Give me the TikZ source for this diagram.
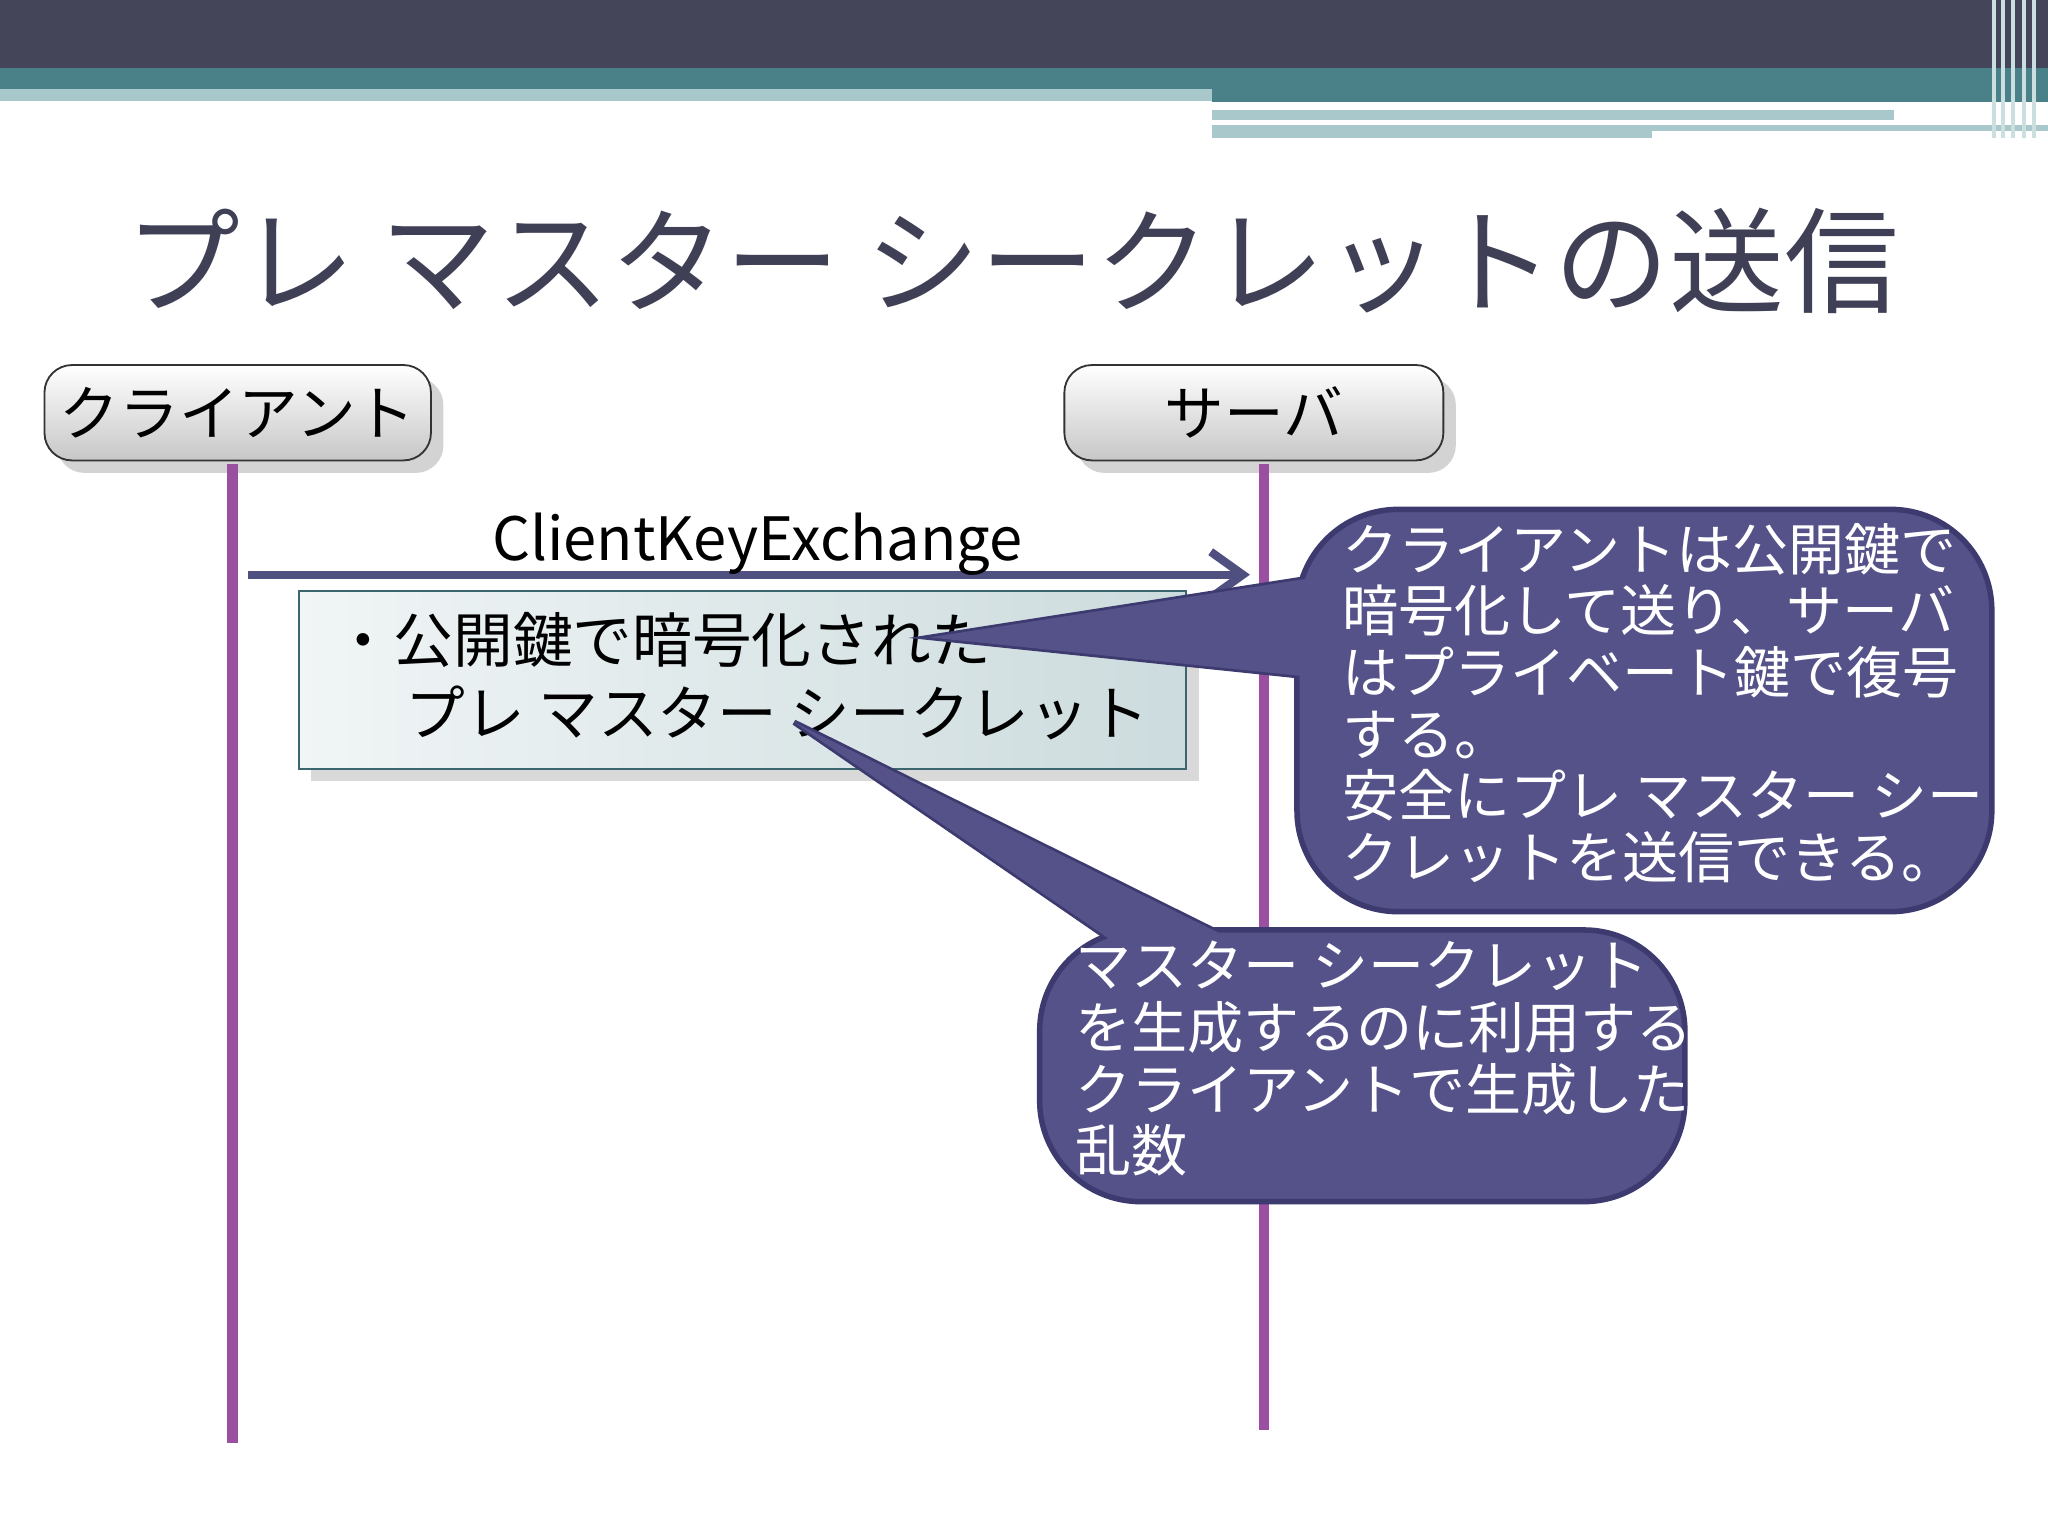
\documentclass[tikz,border=0pt]{standalone}
\usepackage{fontspec}
\setmainfont{Noto Sans CJK JP}
\usetikzlibrary{arrows.meta,shadows}
\definecolor{dark}{HTML}{45455A}
\definecolor{teal1}{HTML}{4A8088}
\definecolor{lite}{HTML}{A8C8CC}
\definecolor{callf}{HTML}{55528A}
\definecolor{calld}{HTML}{3C3A6E}
\definecolor{life}{HTML}{9B4FA0}
\definecolor{arr}{HTML}{505080}
\definecolor{ttl}{HTML}{3F3F55}
\tikzset{
 actor/.style={draw=black!80,rounded corners=6pt,top color=white,bottom color=black!22,minimum width=2.9cm,minimum height=0.73cm,font=\fontsize{13}{15}\selectfont,drop shadow={opacity=0.35}},
 lifeline/.style={draw=life,line width=2.2pt},
 callfill/.style={fill=callf},
 callbox/.style={fill=callf,draw=calld,line width=1.2pt,rounded corners=22pt},
 calltext/.style={text=white,align=left,anchor=north west,font=\fontsize{12.2}{13.4}\selectfont,inner sep=0pt}
}
\begin{document}
\begin{tikzpicture}[x=0.01cm,y=-0.01cm]
\useasboundingbox (0,0) rectangle (1568,1176);
% header
\fill[dark] (0,0) rectangle (1568,52);
\fill[teal1] (0,52) rectangle (1568,68);
\fill[lite] (0,68) rectangle (928,77);
\fill[teal1] (928,68) rectangle (1568,78);
\fill[lite] (928,84) rectangle (1450,92);
\fill[lite] (928,96) rectangle (1568,106);
\fill[white] (1452,84) rectangle (1568,92);
\fill[white] (1265,100) rectangle (1568,106);
\foreach \x in {1525,1532,1540,1548,1556}{\fill[lite!60] (\x,0) rectangle (\x+3,106);}
% title
\node[text=ttl,font=\fontsize{25}{28}\selectfont] (title) at (775,200) {プレ マスター シークレットの送信};
% actors
\node[actor] (cl) at (182,316) {クライアント};
\node[actor] (sv) at (960,316) {サーバ};
\coordinate (clb) at (178,1105);
\coordinate (svb) at (968,1095);
\draw[lifeline] (178,355) -- (clb);
\draw[lifeline] (968,355) -- (svb);
% message
\coordinate (ms) at (190,440);
\coordinate (me) at (957,440);
\draw[arr,line width=1.8pt,-{Straight Barb[length=7pt,width=10pt]}] (ms) -- (me);
\node[font=\fontsize{13}{15}\selectfont] (lbl) at (580,417) {ClientKeyExchange};
% note
\node[draw=teal1!80!black,left color=teal1!8,right color=teal1!28,minimum width=6.79cm,minimum height=1.36cm,anchor=north west,drop shadow={opacity=0.3}] (note) at (228,452) {};
\node[anchor=north west,align=left,font=\fontsize{13}{16}\selectfont,inner sep=0pt] (nt) at (255,468) {・公開鍵で暗号化された\\\hspace{1.2em}プレ マスター シークレット};
% callout 1
\draw[callfill,draw=calld,line width=1.2pt] (712,488) -- (1020,440) -- (1020,520) -- cycle;
\draw[callbox] (993,390) rectangle (1525,698);
\fill[callf] (712,488) -- (1020,440) -- (1020,520) -- cycle;
\node[calltext] (c1) at (1027,400) {クライアントは公開鍵で\\暗号化して送り、サーバ\\はプライベート鍵で復号\\する。\\安全にプレ マスター シー\\クレットを送信できる。};
% callout 2
\draw[callfill,draw=calld,line width=1.2pt] (608,553) -- (985,740) -- (880,740) -- cycle;
\draw[callbox] (796,712) rectangle (1290,920);
\fill[callf] (608,553) -- (985,740) -- (880,740) -- cycle;
\node[calltext] (c2) at (823,720) {マスター シークレット\\を生成するのに利用する\\クライアントで生成した\\乱数};
\end{tikzpicture}
\end{document}
